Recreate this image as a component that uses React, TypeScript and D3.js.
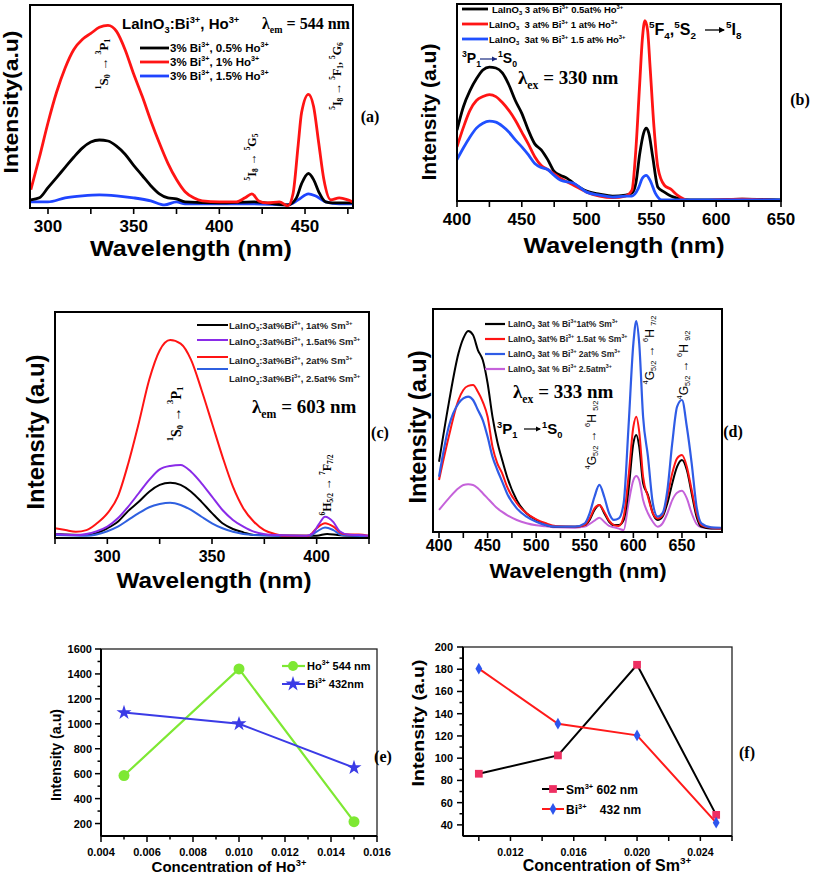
import React from 'react';
import * as d3 from 'd3';

// ---------------- Panel (a): excitation spectra, λem = 544 nm ----------------
const aTicks = [300, 325, 350, 375, 400, 425, 450, 475];
const aTickLabels = [300, 350, 400, 450];
const aBlackX = [290, 295, 300, 305, 310, 315, 320, 325, 330, 335, 340, 345, 350, 355, 360, 365, 370, 375, 380, 400, 420, 440, 445, 448, 452, 455, 458, 462, 466, 478];
const aBlackY = [4, 5, 10, 15, 20, 25, 29.5, 32.5, 33.5, 33, 30.5, 26.5, 21, 16, 11, 7, 5, 4.5, 3, 2.5, 3, 1.5, 5, 12, 17, 14, 8, 3, 2.5, 2.5];
const aRedX = [290, 295, 300, 305, 310, 315, 320, 325, 330, 335, 340, 345, 350, 355, 360, 365, 370, 375, 380, 385, 390, 400, 410, 415, 419, 423, 428, 435, 440, 443, 446, 448, 452, 455, 458, 461, 465, 470, 475, 478];
const aRedY = [9, 25, 42, 57, 69, 78, 83, 86, 89, 90, 87, 78, 66, 55, 43, 32, 22, 14, 8, 5, 3.5, 3, 3, 5, 7, 3.5, 2.5, 3, 1, 7, 31, 47, 56, 50, 32, 14, 4, 5, 4, 3];
const aBlueX = [290, 300, 310, 320, 330, 340, 350, 360, 368, 375, 380, 400, 420, 440, 446, 452, 456, 462, 470, 478];
const aBlueY = [3, 3, 5, 6, 6.5, 6, 5, 3.5, 1.5, 3, 2, 2, 2, 1.5, 4, 7, 6, 3, 2, 2];
const aLegend = ['3% Bi^{3+}, 0.5% Ho^{3+}', '3% Bi^{3+}, 1% Ho^{3+}', '3% Bi^{3+}, 1.5% Ho^{3+}'];

// ---------------- Panel (b): emission spectra, λex = 330 nm ----------------
const bTicks = [400, 425, 450, 475, 500, 525, 550, 575, 600, 625, 650];
const bTickLabels = [400, 450, 500, 550, 600, 650];
const bBlackX = [400, 405, 410, 415, 420, 425, 430, 435, 440, 445, 450, 455, 460, 465, 470, 475, 480, 485, 490, 500, 510, 520, 530, 535, 538, 541, 544, 546, 548, 551, 555, 560, 565, 570, 580, 600, 620, 650];
const bBlackY = [36, 48, 56, 62, 66.5, 68, 67.5, 65, 59, 51, 44.5, 36, 29, 26, 21, 15, 13, 11.5, 9, 5, 3.5, 2.5, 3, 4, 9, 24, 34.5, 37, 34.5, 22.5, 7, 4.5, 2.5, 1.5, 0.5, 0.5, 1, 0.5];
const bRedX = [400, 405, 410, 415, 420, 425, 430, 435, 440, 445, 450, 455, 460, 465, 470, 480, 490, 500, 510, 520, 530, 535, 538, 541, 543, 545, 547, 549, 552, 555, 560, 565, 570, 575, 580, 620, 650];
const bRedY = [27.5, 37.5, 46, 51, 53, 54, 53, 50, 46, 41, 35, 29, 22.5, 18, 16, 11.5, 8, 4.5, 2.5, 1.7, 2.5, 5.5, 26, 60, 82, 91.5, 87, 68, 37.5, 17, 8, 6, 3, 1, 0, 1, 0];
const bBlueX = [400, 405, 410, 415, 420, 425, 430, 435, 440, 445, 450, 455, 460, 465, 470, 475, 480, 490, 500, 510, 520, 530, 535, 540, 543, 546, 549, 553, 558, 570, 600, 650];
const bBlueY = [21, 27, 32.5, 37, 39.5, 40.5, 40, 38, 35, 31, 27.5, 23.5, 19, 17, 16, 13, 10.5, 9, 4.5, 3, 2, 2.5, 2.5, 6.5, 11.5, 13, 10.5, 4, 0.5, 0.5, 0.5, 0.5];
const bLegend = ['LaInO_{3} 3 at% Bi^{3+} 0.5at% Ho^{3+}', 'LaInO_{3}  3 at% Bi^{3+} 1 at% Ho^{3+}', 'LaInO_{3}  3at % Bi^{3+} 1.5 at% Ho^{3+}'];

// ---------------- Panel (c): excitation spectra, λem = 603 nm ----------------
const cTicks = [275, 300, 325, 350, 375, 400, 425];
const cTickLabels = [300, 350, 400];
const cBlackX = [275, 290, 300, 305, 310, 315, 320, 325, 330, 335, 340, 345, 350, 355, 360, 365, 370, 395, 400, 405, 410, 425];
const cBlackY = [1.8, 1.3, 4.3, 7.2, 12, 16, 20.5, 23.5, 24.5, 23.5, 20.5, 16, 11, 6.5, 4, 2.5, 1.3, 1, 1, 1.8, 1.3, 0.7];
const cPurpleX = [275, 285, 295, 300, 305, 310, 315, 320, 325, 330, 335, 340, 345, 350, 355, 360, 365, 370, 380, 395, 398, 401, 404, 408, 411, 415, 420, 425];
const cPurpleY = [1.8, 1.3, 3, 5, 8.7, 13.9, 19.8, 25.7, 30.4, 31.9, 32.3, 29.3, 24.2, 18.3, 12.4, 8, 5, 2.8, 1.3, 1, 2, 6, 9.4, 7, 3, 1.5, 1.3, 1];
const cRedX = [275, 280, 285, 290, 295, 300, 305, 310, 315, 320, 325, 330, 335, 340, 345, 350, 355, 360, 365, 370, 375, 380, 385, 390, 396, 400, 404, 408, 412, 416, 420, 425];
const cRedY = [4.3, 3.5, 2.8, 3.5, 6.5, 10.9, 18.3, 33, 50.8, 70, 83, 87.6, 86, 78.8, 65.5, 50.8, 36, 22.7, 13.1, 7.2, 3.5, 1.8, 1, 1, 1, 4.3, 6.5, 5, 2, 1.5, 1.5, 1];
const cBlueX = [275, 290, 300, 305, 310, 315, 320, 325, 330, 335, 340, 345, 350, 355, 360, 370, 396, 400, 404, 408, 412, 425];
const cBlueY = [1.3, 1, 3, 5, 8, 11, 13.6, 15, 15.6, 14.6, 12.4, 9.4, 6.5, 4.3, 2.8, 1.3, 0.7, 2.8, 4.7, 3.5, 1.3, 0.7];
const cLegend = ['LaInO_{3}:3at%Bi^{3+}, 1at% Sm^{3+}', 'LaInO_{3}:3at%Bi^{3+}, 1.5at% Sm^{3+}', 'LaInO_{3}:3at%Bi^{3+}, 2at% Sm^{3+}', 'LaInO_{3}:3at%Bi^{3+}, 2.5at% Sm^{3+}'];

// ---------------- Panel (d): emission spectra, λex = 333 nm ----------------
const dTicks = [400, 425, 450, 475, 500, 525, 550, 575, 600, 625, 650, 675];
const dTickLabels = [400, 450, 500, 550, 600, 650];
const dX = [400, 410, 420, 425, 430, 435, 440, 445, 450, 455, 460, 465, 470, 480, 490, 500, 510, 520, 540, 550, 555, 560, 565, 570, 575, 580, 585, 590, 595, 600, 603, 606, 610, 615, 620, 625, 630, 635, 640, 645, 650, 655, 660, 665, 670, 680, 690];
const dBlackY = [31.5, 57.7, 80.1, 86.8, 90.1, 88.3, 81.6, 77.1, 66.7, 51.7, 40.5, 32.3, 24.8, 14.3, 8.4, 5.4, 3.1, 2.4, 2.4, 3.1, 5.4, 9.9, 12.1, 8.4, 4.6, 3.1, 3.1, 5.4, 18.8, 39.8, 43.5, 38.3, 21.8, 16.6, 8.4, 5.4, 6.9, 12.9, 21.8, 29.3, 32.3, 27.8, 17.3, 6.9, 2.4, 1.6, 1.6];
const dRedY = [23.3, 42.7, 59.2, 63.7, 65.5, 65.9, 62.9, 58.4, 51.7, 38.3, 30.8, 26.3, 20.3, 12.9, 8.4, 5.7, 3.9, 2.7, 2.4, 3.1, 6.1, 10.6, 12.1, 9.1, 5.1, 3.1, 2.7, 6.9, 24.8, 47.2, 51.7, 45, 24.8, 15.8, 8.4, 6.1, 7.6, 15.8, 26.3, 33, 34.5, 29.3, 18.8, 8.4, 3.1, 1.9, 1.6];
const dBlueY = [24.8, 47.2, 57.7, 59.9, 60.7, 59.2, 54.7, 50.2, 42.7, 33.8, 27.8, 22.6, 17.3, 10.6, 6.9, 4.6, 3.1, 2.4, 2.4, 3.9, 8.4, 15.8, 21.1, 15.8, 8.4, 5.4, 6.1, 12.9, 47.2, 84.6, 94.6, 84.6, 51.7, 33.8, 12.9, 6.9, 8.4, 18.8, 39.8, 56.2, 59.2, 47.2, 30.8, 11.4, 3.9, 2.1, 1.9];
const dVioletY = [9.9, 15.1, 19.6, 21.1, 21.4, 21.1, 19.6, 17.4, 15.1, 12.8, 10.6, 9, 7.6, 5.4, 3.9, 3, 2.6, 2.1, 1.9, 2.4, 3.6, 5.1, 6.4, 4.6, 2.7, 2.1, 1.5, 0.9, 12.9, 23.3, 25.1, 23.3, 14.3, 8.4, 4.6, 2.4, 3.9, 8.4, 14.3, 17.6, 18.5, 15.1, 8.4, 3.6, 2.1, 1.6, 1.6];
const dLegend = ['LaInO_{3} 3at % Bi^{3+}1at% Sm^{3+}', 'LaInO_{3} 3at% Bi^{3+} 1.5at % Sm^{3+}', 'LaInO_{3} 3at % Bi^{3+} 2at% Sm^{3+}', 'LaInO_{3} 3at % Bi^{3+} 2.5atm^{3+}'];

// ---------------- Panel (e): intensity vs Ho3+ concentration ----------------
const eConc = [0.005, 0.01, 0.015];
const eHo = [585, 1440, 215];
const eBi = [1090, 1000, 648];
const eXMajor = [0.004, 0.006, 0.008, 0.01, 0.012, 0.014, 0.016];
const eXMinor = [0.005, 0.007, 0.009, 0.011, 0.013, 0.015];
const eYMajor = [200, 400, 600, 800, 1000, 1200, 1400, 1600];
const eYMinor = [300, 500, 700, 900, 1100, 1300, 1500];

// ---------------- Panel (f): intensity vs Sm3+ concentration ----------------
const fConc = [0.01, 0.015, 0.02, 0.025];
const fSm = [86, 102.5, 184, 49];
const fBi = [180.5, 131, 120.5, 42];
const fXTicks = [0.01, 0.012, 0.014, 0.016, 0.018, 0.02, 0.022, 0.024, 0.026];
const fXLabels = [0.012, 0.016, 0.02, 0.024];
const fYMajor = [40, 60, 80, 100, 120, 140, 160, 180, 200];
const fYMinor = [50, 70, 90, 110, 130, 150, 170, 190];

const SANS = 'Liberation Sans, Arial, sans-serif';
const SERIF = 'Liberation Serif, Times New Roman, serif';

function Rich({ s, fs }: { s: string; fs: number }) {
  const parts: { t: string; k: string }[] = [];
  const re = /(\^\{[^}]*\}|_\{[^}]*\})/g;
  let last = 0;
  let m: RegExpExecArray | null;
  while ((m = re.exec(s))) {
    if (m.index > last) parts.push({ t: s.slice(last, m.index), k: 'n' });
    parts.push({ t: m[0].slice(2, -1), k: m[0][0] === '^' ? 'sup' : 'sub' });
    last = re.lastIndex;
  }
  if (last < s.length) parts.push({ t: s.slice(last), k: 'n' });
  let cur = 0;
  return (
    <>
      {parts.map((p, i) => {
        const target = p.k === 'sup' ? -0.42 * fs : p.k === 'sub' ? 0.28 * fs : 0;
        const dy = target - cur;
        cur = target;
        return (
          <tspan key={i} dy={dy} fontSize={p.k === 'n' ? fs : fs * 0.62}>
            {p.t}
          </tspan>
        );
      })}
    </>
  );
}

type Series = { x: number[]; y: number[]; color: string; w: number };
type Box = { l: number; t: number; r: number; b: number };

function Spectrum({ id, box, xDom, ticks, labels, series, labelY, labelFs }: {
  id: string; box: Box; xDom: [number, number]; ticks: number[]; labels: number[]; series: Series[]; labelY: number; labelFs: number;
}) {
  const x = d3.scaleLinear().domain(xDom).range([box.l, box.r]);
  const y = d3.scaleLinear().domain([0, 100]).range([box.b, box.t]);
  const line = d3.line<[number, number]>().x(d => x(d[0])).y(d => y(d[1])).curve(d3.curveMonotoneX);
  return (
    <g>
      <defs>
        <clipPath id={id}>
          <rect x={box.l} y={box.t} width={box.r - box.l} height={box.b - box.t} />
        </clipPath>
      </defs>
      <g clipPath={`url(#${id})`}>
        {series.map((s, i) => (
          <path key={i} d={line(s.x.map((v, j) => [v, s.y[j]] as [number, number])) || ''} fill="none" stroke={s.color} strokeWidth={s.w} strokeLinejoin="round" />
        ))}
      </g>
      <rect x={box.l} y={box.t} width={box.r - box.l} height={box.b - box.t} fill="none" stroke="#000" strokeWidth={2} />
      {ticks.map(t => (
        <line key={t} x1={x(t)} x2={x(t)} y1={box.b} y2={box.b + 6} stroke="#000" strokeWidth={1.6} />
      ))}
      {labels.map(t => (
        <text key={t} x={x(t)} y={labelY} textAnchor="middle" dominantBaseline="central" fontFamily={SANS} fontWeight="bold" fontSize={labelFs}>{t}</text>
      ))}
    </g>
  );
}

function VText({ x, y, s, fs, family, len, weight = 'bold' }: { x: number; y: number; s: string; fs: number; family: string; len?: number; weight?: string }) {
  return (
    <text transform={`translate(${x},${y}) rotate(-90)`} textAnchor="middle" dominantBaseline="central" fontFamily={family} fontWeight={weight} fontSize={fs} textLength={len} lengthAdjust={len ? 'spacingAndGlyphs' : undefined}>
      <Rich s={s} fs={fs} />
    </text>
  );
}

function HText({ x, y, s, fs, family, anchor = 'start', len, weight = 'bold', fill = '#000' }: { x: number; y: number; s: string; fs: number; family: string; anchor?: string; len?: number; weight?: string; fill?: string }) {
  return (
    <text x={x} y={y} textAnchor={anchor} fontFamily={family} fontWeight={weight} fontSize={fs} fill={fill} textLength={len} lengthAdjust={len ? 'spacingAndGlyphs' : undefined} style={{ whiteSpace: 'pre' }}>
      <Rich s={s} fs={fs} />
    </text>
  );
}

function PanelE() {
  const box = { l: 101, t: 649, r: 377, b: 836 };
  const x = d3.scaleLinear().domain([0.004, 0.016]).range([box.l, box.r]);
  const y = d3.scaleLinear().domain([100, 1600]).range([box.b, box.t]);
  const line = d3.line<number>().x((_, i) => x(eConc[i])).y(d => y(d));
  const star = d3.symbol().type(d3.symbolStar).size(70)() || '';
  const green = '#7ee833';
  const blue = '#3b3be6';
  return (
    <g>
      <rect x={box.l} y={box.t} width={box.r - box.l} height={box.b - box.t} fill="none" stroke="#222" strokeWidth={1.3} />
      <line x1={box.l} x2={box.l} y1={box.t} y2={box.b} stroke="#000" strokeWidth={2} />
      <line x1={box.l} x2={box.r} y1={box.b} y2={box.b} stroke="#000" strokeWidth={2} />
      {eXMajor.map(t => <line key={t} x1={x(t)} x2={x(t)} y1={box.b} y2={box.b + 6} stroke="#000" strokeWidth={1.5} />)}
      {eXMinor.map(t => <line key={t} x1={x(t)} x2={x(t)} y1={box.b} y2={box.b + 3.5} stroke="#000" strokeWidth={1.5} />)}
      {eYMajor.map(t => <line key={t} x1={box.l - 6} x2={box.l} y1={y(t)} y2={y(t)} stroke="#000" strokeWidth={1.5} />)}
      {eYMinor.map(t => <line key={t} x1={box.l - 3.5} x2={box.l} y1={y(t)} y2={y(t)} stroke="#000" strokeWidth={1.5} />)}
      {eXMajor.map(t => <text key={t} x={x(t)} y={852} textAnchor="middle" dominantBaseline="central" fontFamily={SANS} fontWeight="bold" fontSize={11}>{t.toFixed(3)}</text>)}
      {eYMajor.map(t => <text key={t} x={box.l - 9} y={y(t)} textAnchor="end" dominantBaseline="central" fontFamily={SANS} fontWeight="bold" fontSize={11}>{t}</text>)}
      <path d={line(eHo) || ''} fill="none" stroke={green} strokeWidth={2.2} />
      <path d={line(eBi) || ''} fill="none" stroke={blue} strokeWidth={2} />
      {eHo.map((v, i) => <circle key={i} cx={x(eConc[i])} cy={y(v)} r={5.5} fill={green} />)}
      {eBi.map((v, i) => <path key={i} d={star} transform={`translate(${x(eConc[i])},${y(v)})`} fill={blue} />)}
      <line x1={282} x2={305} y1={666} y2={666} stroke={green} strokeWidth={2.2} />
      <circle cx={293} cy={666} r={5} fill={green} />
      <HText x={307} y={670} s="Ho^{3+} 544 nm" fs={11} family={SANS} />
      <line x1={282} x2={305} y1={684} y2={684} stroke={blue} strokeWidth={2} />
      <path d={star} transform="translate(293,684)" fill={blue} />
      <HText x={307} y={688} s="Bi^{3+} 432nm" fs={11} family={SANS} />
      <VText x={56} y={755} s="Intensity (a.u)" fs={14} family={SANS} len={92} />
      <HText x={229} y={872} s="Concentration of Ho^{3+}" fs={15} family={SANS} anchor="middle" />
      <text x={383} y={762} fontFamily={SERIF} fontWeight="bold" fontSize={16} textAnchor="middle">(e)</text>
    </g>
  );
}

function PanelF() {
  const box = { l: 463, t: 647, r: 732, b: 836 };
  const x = d3.scaleLinear().domain([0.009, 0.026]).range([box.l, box.r]);
  const y = d3.scaleLinear().domain([30, 200]).range([box.b, box.t]);
  const line = d3.line<number>().x((_, i) => x(fConc[i])).y(d => y(d));
  const sq = d3.symbol().type(d3.symbolSquare).size(60)() || '';
  const dia = d3.symbol().type(d3.symbolDiamond).size(40)() || '';
  const pink = '#ee2f62';
  const dblue = '#2d55ee';
  return (
    <g>
      <rect x={box.l} y={box.t} width={box.r - box.l} height={box.b - box.t} fill="none" stroke="#222" strokeWidth={1.3} />
      <line x1={box.l} x2={box.l} y1={box.t} y2={box.b} stroke="#000" strokeWidth={2} />
      <line x1={box.l} x2={box.r} y1={box.b} y2={box.b} stroke="#000" strokeWidth={2} />
      {fXTicks.map(t => <line key={t} x1={x(t)} x2={x(t)} y1={box.b} y2={box.b + 5} stroke="#000" strokeWidth={1.5} />)}
      {fYMajor.map(t => <line key={t} x1={box.l - 6} x2={box.l} y1={y(t)} y2={y(t)} stroke="#000" strokeWidth={1.5} />)}
      {fYMinor.map(t => <line key={t} x1={box.l - 3.5} x2={box.l} y1={y(t)} y2={y(t)} stroke="#000" strokeWidth={1.5} />)}
      {fXLabels.map(t => <text key={t} x={x(t)} y={852} textAnchor="middle" dominantBaseline="central" fontFamily={SANS} fontWeight="bold" fontSize={10.5}>{t.toFixed(3)}</text>)}
      {fYMajor.map(t => <text key={t} x={box.l - 10} y={y(t)} textAnchor="end" dominantBaseline="central" fontFamily={SANS} fontWeight="bold" fontSize={11}>{t}</text>)}
      <path d={line(fSm) || ''} fill="none" stroke="#000" strokeWidth={2} />
      <path d={line(fBi) || ''} fill="none" stroke="#ff1a1a" strokeWidth={2} />
      {fSm.map((v, i) => <path key={i} d={sq} transform={`translate(${x(fConc[i])},${y(v)})`} fill={pink} />)}
      {fBi.map((v, i) => <path key={i} d={dia} transform={`translate(${x(fConc[i])},${y(v)})`} fill={dblue} />)}
      <line x1={542} x2={564} y1={789} y2={789} stroke="#000" strokeWidth={2} />
      <path d={sq} transform="translate(553,789)" fill={pink} />
      <HText x={566} y={794} s="Sm^{3+} 602 nm" fs={12} family={SANS} />
      <line x1={542} x2={564} y1={809} y2={809} stroke="#ff1a1a" strokeWidth={2} />
      <path d={dia} transform="translate(553,809)" fill={dblue} />
      <HText x={566} y={814} s={'Bi^{3+}\u00a0\u00a0\u00a0\u00a0432 nm'} fs={12} family={SANS} />
      <VText x={418} y={723} s="Intensity (a.u)" fs={17} family={SANS} len={127} />
      <HText x={607} y={871} s="Concentration of Sm^{3+}" fs={16} family={SANS} anchor="middle" />
      <text x={747} y={758} fontFamily={SERIF} fontWeight="bold" fontSize={16} textAnchor="middle">(f)</text>
    </g>
  );
}

export default function App() {
  const red = '#ff1414';
  return (
    <svg width={813} height={875} viewBox="0 0 813 875" style={{ position: 'absolute', left: 0, top: 0, background: '#fff' }}>
      <rect width={813} height={875} fill="#fff" />
      {/* Panel (a) */}
      <Spectrum id="ca" box={{ l: 30, t: 5, r: 353, b: 208 }} xDom={[289.5, 478]} ticks={aTicks} labels={aTickLabels} labelY={226} labelFs={17}
        series={[
          { x: aBlueX, y: aBlueY, color: '#1f44ff', w: 2.8 },
          { x: aBlackX, y: aBlackY, color: '#000', w: 2.8 },
          { x: aRedX, y: aRedY, color: red, w: 2.8 },
        ]} />
      <VText x={10} y={102} s="Intensity(a.u)" fs={21} family={SANS} len={143} />
      <HText x={191} y={256} s="Wavelength (nm)" fs={22} family={SANS} anchor="middle" len={202} />
      <HText x={122} y={29} s="LaInO_{3}:Bi^{3+}, Ho^{3+}" fs={15} family={SANS} />
      <HText x={262} y={29} s="λ_{em} = 544 nm" fs={16} family={SERIF} />
      {['#000', red, '#1f44ff'].map((c, i) => (
        <g key={i}>
          <line x1={140} x2={169} y1={48 + i * 14} y2={48 + i * 14} stroke={c} strokeWidth={2.8} />
          <HText x={170} y={52 + i * 14} s={aLegend[i]} fs={11.5} family={SANS} />
        </g>
      ))}
      <VText x={103} y={64} s="^{1}S_{0} → ^{3}P_{1}" fs={13} family={SERIF} />
      <VText x={252} y={157} s="^{5}I_{8} → ^{5}G_{5}" fs={12} family={SERIF} />
      <VText x={337} y={76} s="^{5}I_{8} → ^{5}F_{1}, ^{5}G_{6}" fs={12} family={SERIF} />
      <text x={370} y={122} fontFamily={SERIF} fontWeight="bold" fontSize={16} textAnchor="middle">(a)</text>

      {/* Panel (b) */}
      <Spectrum id="cb" box={{ l: 457, t: 4, r: 781, b: 201 }} xDom={[400, 650]} ticks={bTicks} labels={bTickLabels} labelY={219} labelFs={17}
        series={[
          { x: bBlackX, y: bBlackY, color: '#000', w: 2.8 },
          { x: bRedX, y: bRedY, color: red, w: 2.8 },
          { x: bBlueX, y: bBlueY, color: '#2050ff', w: 2.8 },
        ]} />
      <VText x={428} y={112} s="Intensity (a.u)" fs={21} family={SANS} len={137} />
      <HText x={624} y={253} s="Wavelength (nm)" fs={22} family={SANS} anchor="middle" len={201} />
      {['#000', red, '#2050ff'].map((c, i) => (
        <g key={i}>
          <line x1={462} x2={488} y1={9 + i * 15} y2={9 + i * 15} stroke={c} strokeWidth={2.8} />
          <HText x={i === 0 ? 492 : 489} y={12.5 + i * 15} s={bLegend[i]} fs={9.5} family={SANS} />
        </g>
      ))}
      <HText x={462} y={63} s="^{3}P_{1}" fs={14} family={SANS} />
      <line x1={480} x2={497} y1={59} y2={59} stroke="#1a2a80" strokeWidth={1.2} />
      <path d="M497,59 l-5,-2.5 v5 z" fill="#1a2a80" />
      <HText x={498} y={63} s="^{1}S_{0}" fs={14} family={SANS} />
      <HText x={518} y={84} s="λ_{ex} = 330 nm" fs={19} family={SERIF} />
      <HText x={649} y={35} s="^{5}F_{4},^{5}S_{2}" fs={16} family={SANS} />
      <line x1={705} x2={724} y1={30} y2={30} stroke="#000" strokeWidth={1.3} />
      <path d="M725,30 l-6,-3 v6 z" fill="#000" />
      <HText x={726} y={35} s="^{5}I_{8}" fs={16} family={SANS} />
      <text x={800} y={105} fontFamily={SERIF} fontWeight="bold" fontSize={16} textAnchor="middle">(b)</text>

      {/* Panel (c) */}
      <Spectrum id="cc" box={{ l: 55, t: 312, r: 369, b: 538 }} xDom={[275, 425]} ticks={cTicks} labels={cTickLabels} labelY={556} labelFs={16}
        series={[
          { x: cBlackX, y: cBlackY, color: '#000', w: 2 },
          { x: cBlueX, y: cBlueY, color: '#2f60e0', w: 2 },
          { x: cRedX, y: cRedY, color: red, w: 2 },
          { x: cPurpleX, y: cPurpleY, color: '#8a2be8', w: 2 },
        ]} />
      <VText x={36} y={432} s="Intensity (a.u)" fs={23} family={SANS} len={155} />
      <HText x={214} y={588} s="Wavelength (nm)" fs={22} family={SANS} anchor="middle" len={195} />
      {['#000', '#8a2be8', red, '#2f60e0'].map((c, i) => {
        const ly = [325, 340, 357, 369][i];
        const ty = [328.5, 345, 364, 382][i];
        return (
          <g key={i}>
            <line x1={197} x2={228} y1={ly} y2={ly} stroke={c} strokeWidth={2} />
            <HText x={229} y={ty} s={cLegend[i]} fs={9.5} family={SANS} fill="#222" />
          </g>
        );
      })}
      <HText x={252} y={413} s="λ_{em} = 603 nm" fs={19} family={SERIF} />
      <VText x={176} y={414} s="^{1}S_{0} → ^{3}P_{1}" fs={14} family={SERIF} />
      <VText x={327} y={485} s="^{6}H_{5/2} → ^{7}F_{7/2}" fs={12} family={SERIF} />
      <text x={380} y={438} fontFamily={SERIF} fontWeight="bold" fontSize={16} textAnchor="middle">(c)</text>

      {/* Panel (d) */}
      <Spectrum id="cd" box={{ l: 433, t: 309, r: 722, b: 532 }} xDom={[393.8, 691.2]} ticks={dTicks} labels={dTickLabels} labelY={545} labelFs={16}
        series={[
          { x: dX, y: dVioletY, color: '#c562da', w: 2 },
          { x: dX, y: dBlackY, color: '#000', w: 2 },
          { x: dX, y: dRedY, color: red, w: 2 },
          { x: dX, y: dBlueY, color: '#2f5ce6', w: 2.2 },
        ]} />
      <VText x={418} y={427} s="Intensity (a.u)" fs={23} family={SANS} len={153} />
      <HText x={578} y={578} s="Wavelength (nm)" fs={21} family={SANS} anchor="middle" len={177} />
      {['#000', red, '#2f5ce6', '#c562da'].map((c, i) => (
        <g key={i}>
          <line x1={485} x2={505} y1={324 + i * 15} y2={324 + i * 15} stroke={c} strokeWidth={2.2} />
          <HText x={508} y={327 + i * 15} s={dLegend[i]} fs={8.5} family={SANS} fill="#222" />
        </g>
      ))}
      <HText x={513} y={398} s="λ_{ex} = 333 nm" fs={19} family={SERIF} />
      <HText x={497} y={434} s="^{3}P_{1}" fs={15} family={SANS} />
      <line x1={524} x2={540} y1={429} y2={429} stroke="#000" strokeWidth={1.2} />
      <path d="M541,429 l-5,-2.5 v5 z" fill="#000" />
      <HText x={542} y={434} s="^{1}S_{0}" fs={15} family={SANS} />
      <VText x={592} y={435} s="^{4}G_{5/2} → ^{6}H _{5/2}" fs={12} family={SANS} weight="normal" />
      <VText x={650} y={350} s="^{4}G_{5/2} → ^{6}H _{7/2}" fs={12} family={SANS} weight="normal" />
      <VText x={684} y={365} s="^{4}G_{5/2} → ^{6}H _{9/2}" fs={12} family={SANS} weight="normal" />
      <text x={733} y={437} fontFamily={SERIF} fontWeight="bold" fontSize={16} textAnchor="middle">(d)</text>

      <PanelE />
      <PanelF />
    </svg>
  );
}
